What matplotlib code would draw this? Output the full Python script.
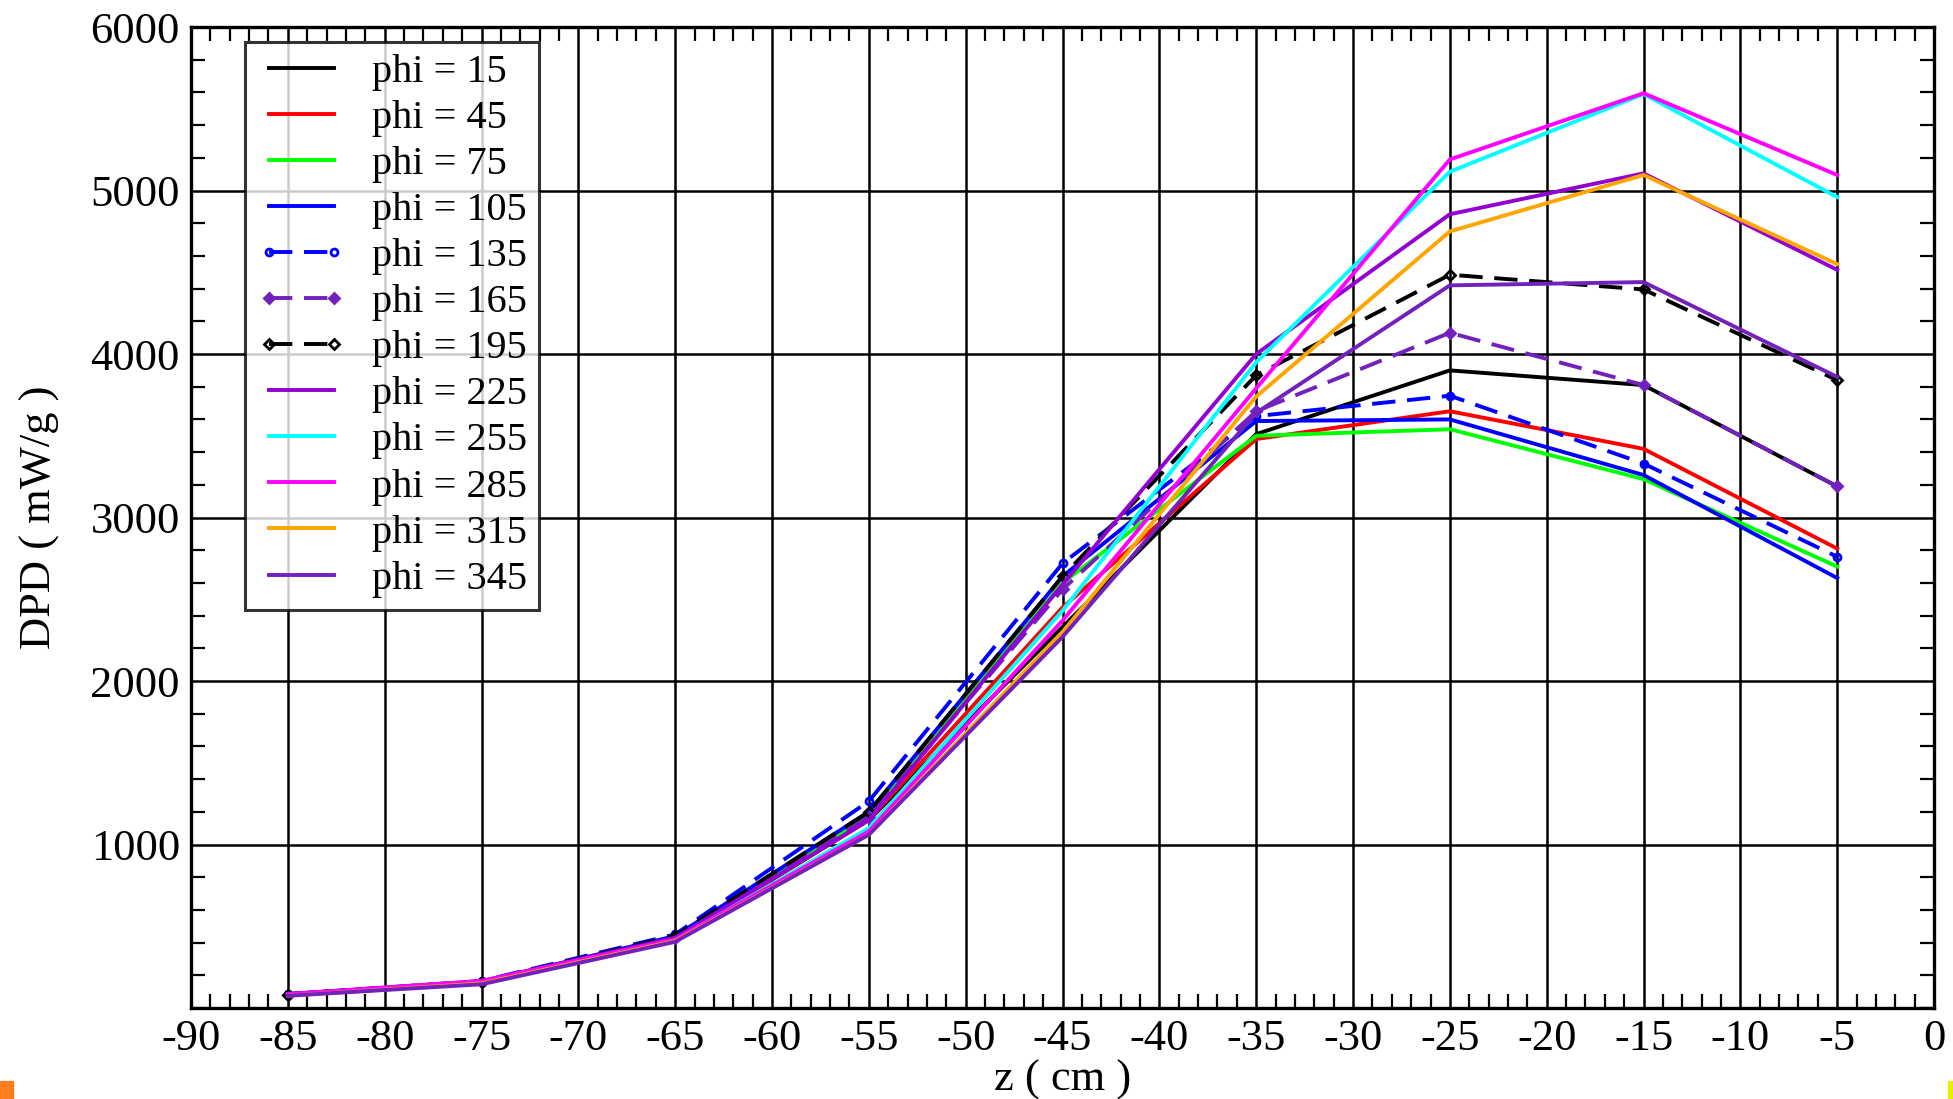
import matplotlib
matplotlib.use("Agg")
import matplotlib.pyplot as plt
from matplotlib.ticker import MultipleLocator
from matplotlib.patches import Rectangle

# z positions (cm) and DPD values (mW/g) per phi angle
z = [-85, -75, -65, -55, -45, -35, -25, -15, -5]

phi_labels = ["phi = 15", "phi = 45", "phi = 75", "phi = 105", "phi = 135", "phi = 165",
              "phi = 195", "phi = 225", "phi = 255", "phi = 285", "phi = 315", "phi = 345"]

dpd_15 = [80, 150, 420, 1150, 2330, 3510, 3900, 3810, 3190]
dpd_45 = [85, 160, 425, 1150, 2450, 3480, 3650, 3420, 2810]
dpd_75 = [80, 155, 430, 1180, 2600, 3500, 3540, 3235, 2700]
dpd_105 = [85, 160, 440, 1200, 2640, 3590, 3600, 3260, 2630]
dpd_135 = [85, 165, 450, 1265, 2720, 3620, 3745, 3330, 2760]
dpd_165 = [80, 160, 430, 1170, 2560, 3650, 4130, 3810, 3190]
dpd_195 = [80, 160, 440, 1200, 2640, 3870, 4485, 4395, 3840]
dpd_225 = [85, 165, 430, 1150, 2590, 4000, 4855, 5105, 4515]
dpd_255 = [80, 155, 415, 1100, 2430, 3950, 5115, 5590, 4960]
dpd_285 = [85, 165, 420, 1080, 2370, 3790, 5190, 5595, 5095]
dpd_315 = [75, 150, 410, 1060, 2300, 3740, 4750, 5095, 4550]
dpd_345 = [75, 145, 405, 1060, 2270, 3640, 4420, 4440, 3860]

series = [dpd_15, dpd_45, dpd_75, dpd_105, dpd_135, dpd_165,
          dpd_195, dpd_225, dpd_255, dpd_285, dpd_315, dpd_345]

colors = ["#000000", "#ff0000", "#00ff00", "#0000ff", "#0000ff", "#7221bc",
          "#000000", "#9400d3", "#00ffff", "#ff00ff", "#ffa500", "#7221bc"]
styles = ["-", "-", "-", "-", "--", "--", "--", "-", "-", "-", "-", "-"]
markers = [None, None, None, None, "o", "D", "D", None, None, None, None, None]
mfills = ["none", "none", "none", "none", "none", "full", "none",
          "none", "none", "none", "none", "none"]

plt.rcParams["font.family"] = ["Liberation Serif", "DejaVu Serif"]
plt.rcParams["axes.unicode_minus"] = False

fig = plt.figure(figsize=(19.53, 10.99), dpi=100)
ax = fig.add_axes([0.0978, 0.0828, 0.8925, 0.8926])

for vals, lab, c, ls, mk, mf in zip(series, phi_labels, colors, styles, markers, mfills):
    line, = ax.plot(z, vals, color=c, linestyle=ls, linewidth=2.8, label=lab,
                    marker=mk, markersize=5, markeredgewidth=2, fillstyle=mf)
    if ls == "--":
        line.set_dashes((6, 3))

ax.set_xlim(-90, 0)
ax.set_ylim(0, 6000)
ax.set_xticks(range(-90, 1, 5))
ax.set_yticks(range(1000, 6001, 1000))
ax.xaxis.set_minor_locator(MultipleLocator(1))
ax.yaxis.set_minor_locator(MultipleLocator(200))

ax.grid(True, which="major", color="black", linewidth=1.8)
ax.set_axisbelow(True)
ax.tick_params(which="both", direction="in", top=True, right=True, width=1.6)
ax.tick_params(which="major", length=0, labelsize=32, pad=8)
ax.tick_params(which="minor", length=10)
for sp in ax.spines.values():
    sp.set_linewidth(2.4)

ax.set_xlabel("z ( cm )", fontsize=32, labelpad=0)
ax.set_ylabel("DPD ( mW/g )", fontsize=32, labelpad=22)

leg = ax.legend(loc="upper left", bbox_to_anchor=(0.031, 0.985), fontsize=29,
                frameon=True, fancybox=False, handlelength=2.2, handletextpad=0.65,
                labelspacing=0.22, borderpad=0.3, borderaxespad=0, numpoints=2)
leg.get_frame().set_edgecolor("black")
leg.get_frame().set_linewidth(2.2)

# small coloured marks in the bottom corners of the slide
fig.patches.append(Rectangle((0, 0), 0.0065, 0.016, transform=fig.transFigure,
                             color="#ff7f1e", zorder=5))
fig.patches.append(Rectangle((0.9975, 0), 0.0025, 0.016, transform=fig.transFigure,
                             color="#e5f000", zorder=5))

fig.savefig("out.png", dpi=100)
